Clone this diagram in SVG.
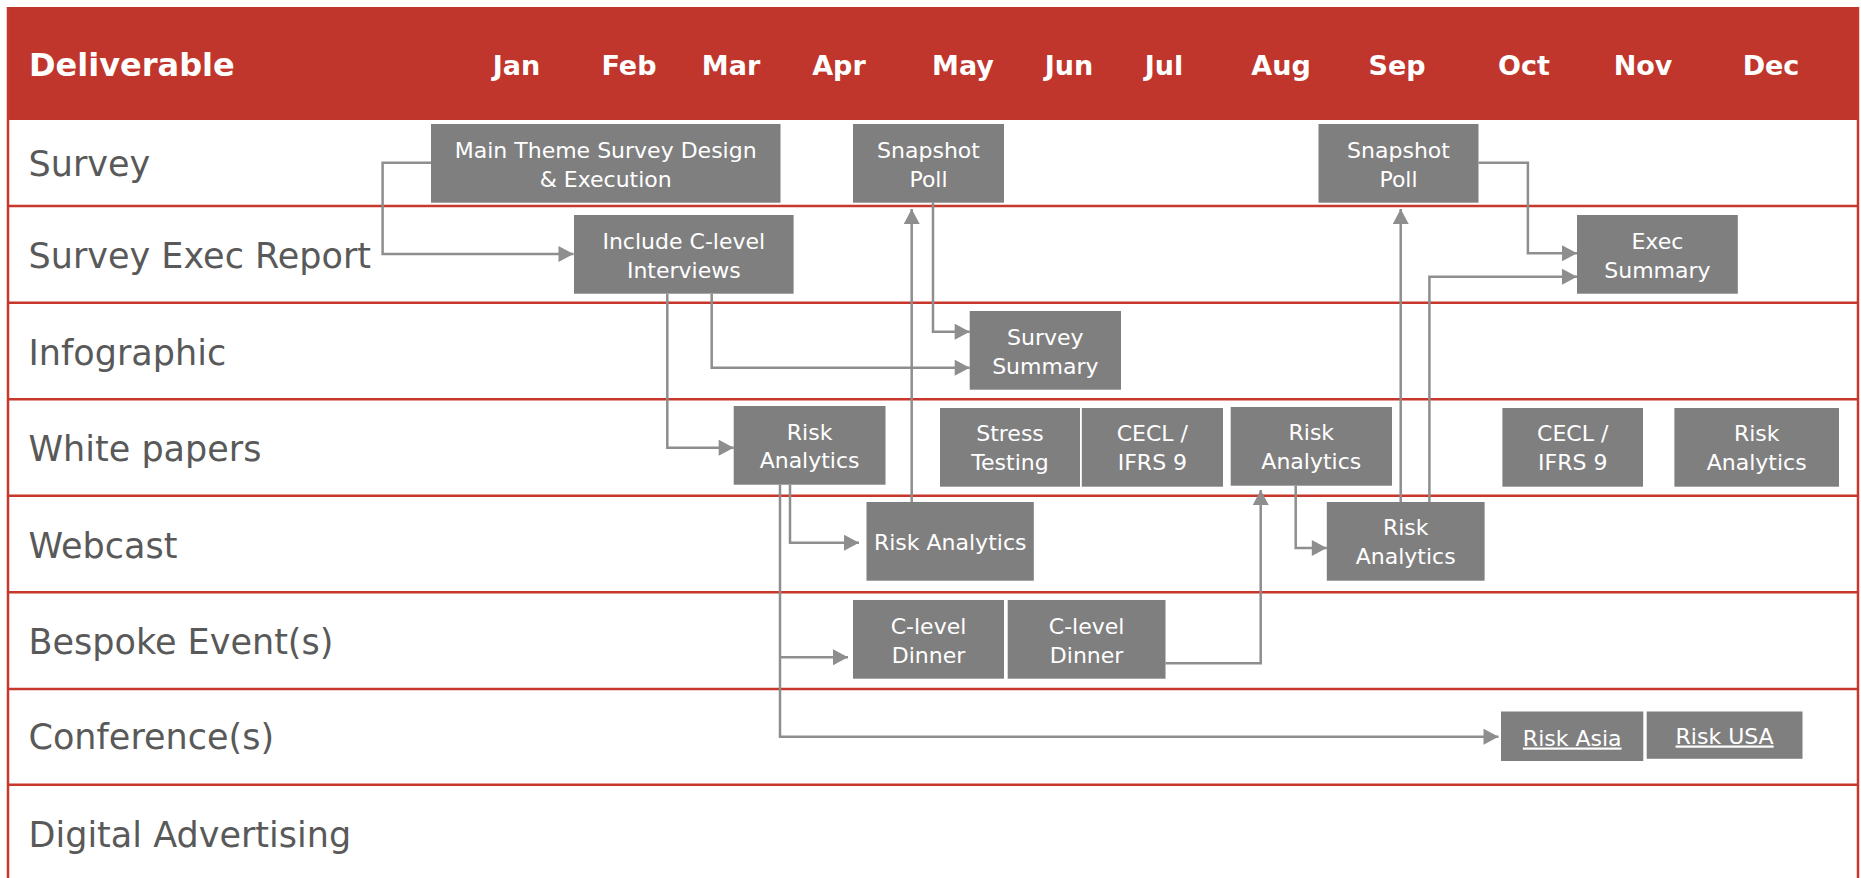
<svg xmlns="http://www.w3.org/2000/svg" width="1861" height="878" viewBox="0 0 1861 878">
<style>
.hdr{font-family:"DejaVu Sans","Liberation Sans",sans-serif;font-weight:bold;fill:#ffffff;}
.mon{font-size:27px;text-anchor:middle;}
.lbl{font-family:"DejaVu Sans","Liberation Sans",sans-serif;font-size:35px;fill:#595959;}
.box{fill:#7f7f7f;}
.bt{font-family:"DejaVu Sans","Liberation Sans",sans-serif;font-size:22px;fill:#ffffff;text-anchor:middle;}
.row{stroke:#c7372c;stroke-width:2.5;fill:none;}
.con{stroke:#8e8e8e;stroke-width:2.5;fill:none;}
</style>
<defs>
<marker id="arr" markerUnits="userSpaceOnUse" markerWidth="16" markerHeight="16" viewBox="0 0 15 16" refX="15" refY="8" orient="auto">
<path d="M0,0 L15,8 L0,16 Z" fill="#8e8e8e"/>
</marker>
</defs>
<rect x="0" y="0" width="1861" height="878" fill="#ffffff"/>
<g id="table">
<rect x="8" y="7" width="1850" height="113" fill="#c0362c"/>
<line class="row" x1="8" y1="206" x2="1858" y2="206"/>
<line class="row" x1="8" y1="302.7" x2="1858" y2="302.7"/>
<line class="row" x1="8" y1="399.3" x2="1858" y2="399.3"/>
<line class="row" x1="8" y1="495.7" x2="1858" y2="495.7"/>
<line class="row" x1="8" y1="592.3" x2="1858" y2="592.3"/>
<line class="row" x1="8" y1="689" x2="1858" y2="689"/>
<line class="row" x1="8" y1="784.7" x2="1858" y2="784.7"/>
<line class="row" x1="8" y1="7" x2="8" y2="878"/>
<line class="row" x1="1858" y1="7" x2="1858" y2="878"/>
</g>
<g id="header">
<text class="hdr" x="29" y="75.5" font-size="32">Deliverable</text>
<text class="hdr mon" x="516.5" y="75">Jan</text>
<text class="hdr mon" x="629" y="75">Feb</text>
<text class="hdr mon" x="731" y="75">Mar</text>
<text class="hdr mon" x="839" y="75">Apr</text>
<text class="hdr mon" x="963" y="75">May</text>
<text class="hdr mon" x="1069" y="75">Jun</text>
<text class="hdr mon" x="1164" y="75">Jul</text>
<text class="hdr mon" x="1281" y="75">Aug</text>
<text class="hdr mon" x="1397" y="75">Sep</text>
<text class="hdr mon" x="1524" y="75">Oct</text>
<text class="hdr mon" x="1643" y="75">Nov</text>
<text class="hdr mon" x="1771" y="75">Dec</text>
</g>
<g id="labels">
<text class="lbl" x="28.5" y="176">Survey</text>
<text class="lbl" x="28.5" y="268.3">Survey Exec Report</text>
<text class="lbl" x="28.5" y="365">Infographic</text>
<text class="lbl" x="28.5" y="461">White papers</text>
<text class="lbl" x="28.5" y="557.7">Webcast</text>
<text class="lbl" x="28.5" y="654">Bespoke Event(s)</text>
<text class="lbl" x="28.5" y="749">Conference(s)</text>
<text class="lbl" x="28.5" y="847">Digital Advertising</text>
</g>
<g id="connectors">
<path class="con" d="M431,162.7 H382.6 V254 H573.5" marker-end="url(#arr)"/>
<path class="con" d="M667.3,293.7 V447.7 H733.7" marker-end="url(#arr)"/>
<path class="con" d="M711.7,293.7 V367.7 H969.7" marker-end="url(#arr)"/>
<path class="con" d="M933,202.7 V331.7 H969.7" marker-end="url(#arr)"/>
<path class="con" d="M911.7,502 V209" marker-end="url(#arr)"/>
<path class="con" d="M1400.7,502 V209" marker-end="url(#arr)"/>
<path class="con" d="M1429.4,502 V276.7 H1577" marker-end="url(#arr)"/>
<path class="con" d="M1478.6,162.7 H1527.9 V253.3 H1577" marker-end="url(#arr)"/>
<path class="con" d="M790,484.7 V542.7 H859" marker-end="url(#arr)"/>
<path class="con" d="M780,484.7 V736.7 H1498.5" marker-end="url(#arr)"/>
<path class="con" d="M780,657.3 H848" marker-end="url(#arr)"/>
<path class="con" d="M1165.5,663.3 H1260.7 V490" marker-end="url(#arr)"/>
<path class="con" d="M1295.7,485.7 V548 H1326.8" marker-end="url(#arr)"/>
</g>
<g id="n-main"><rect class="box" x="431" y="124" width="349.5" height="78.7"/><text class="bt" x="605.7" y="157.5">Main Theme Survey Design</text><text class="bt" x="605.7" y="186.5">&amp; Execution</text></g>
<g id="n-snap1"><rect class="box" x="853" y="124" width="151" height="78.7"/><text class="bt" x="928.5" y="157.5">Snapshot</text><text class="bt" x="928.5" y="186.5">Poll</text></g>
<g id="n-snap2"><rect class="box" x="1318.5" y="124" width="160" height="78.7"/><text class="bt" x="1398.5" y="157.5">Snapshot</text><text class="bt" x="1398.5" y="186.5">Poll</text></g>
<g id="n-include"><rect class="box" x="574" y="215" width="219.6" height="78.7"/><text class="bt" x="683.8" y="248.5">Include C-level</text><text class="bt" x="683.8" y="277.5">Interviews</text></g>
<g id="n-exec"><rect class="box" x="1577" y="215" width="160.8" height="78.7"/><text class="bt" x="1657.4" y="248.5">Exec</text><text class="bt" x="1657.4" y="277.5">Summary</text></g>
<g id="n-survsum"><rect class="box" x="969.7" y="311" width="151.3" height="78.7"/><text class="bt" x="1045.3" y="345">Survey</text><text class="bt" x="1045.3" y="373.5">Summary</text></g>
<g id="n-wp1"><rect class="box" x="733.7" y="406" width="151.8" height="78.7"/><text class="bt" x="809.6" y="439.5">Risk</text><text class="bt" x="809.6" y="468">Analytics</text></g>
<g id="n-stress"><rect class="box" x="940" y="408" width="140" height="78.7"/><text class="bt" x="1010" y="441">Stress</text><text class="bt" x="1010" y="469.5">Testing</text></g>
<g id="n-cecl1"><rect class="box" x="1081.8" y="408" width="141.2" height="78.7"/><text class="bt" x="1152.4" y="441">CECL /</text><text class="bt" x="1152.4" y="469.5">IFRS 9</text></g>
<g id="n-wp2"><rect class="box" x="1230.7" y="407" width="161.3" height="78.7"/><text class="bt" x="1311.3" y="440">Risk</text><text class="bt" x="1311.3" y="468.5">Analytics</text></g>
<g id="n-cecl2"><rect class="box" x="1502.4" y="408" width="140.6" height="78.7"/><text class="bt" x="1572.7" y="441">CECL /</text><text class="bt" x="1572.7" y="469.5">IFRS 9</text></g>
<g id="n-wp3"><rect class="box" x="1674.4" y="408" width="164.6" height="78.7"/><text class="bt" x="1756.7" y="441">Risk</text><text class="bt" x="1756.7" y="469.5">Analytics</text></g>
<g id="n-web1"><rect class="box" x="866.5" y="502" width="167.3" height="78.7"/><text class="bt" x="950.2" y="549.5">Risk Analytics</text></g>
<g id="n-web2"><rect class="box" x="1326.8" y="502" width="157.8" height="78.7"/><text class="bt" x="1405.7" y="535">Risk</text><text class="bt" x="1405.7" y="564">Analytics</text></g>
<g id="n-dinner1"><rect class="box" x="853" y="600" width="151" height="78.7"/><text class="bt" x="928.5" y="633.5">C-level</text><text class="bt" x="928.5" y="662.5">Dinner</text></g>
<g id="n-dinner2"><rect class="box" x="1007.7" y="600" width="157.8" height="78.7"/><text class="bt" x="1086.6" y="633.5">C-level</text><text class="bt" x="1086.6" y="662.5">Dinner</text></g>
<g id="n-riskasia"><rect class="box" x="1501" y="711.5" width="142.3" height="49.5"/><text class="bt" x="1572.2" y="745.5" text-decoration="underline">Risk Asia</text></g>
<g id="n-riskusa"><rect class="box" x="1646.7" y="711.5" width="155.8" height="47.3"/><text class="bt" x="1724.6" y="743.5" text-decoration="underline">Risk USA</text></g>
</svg>
